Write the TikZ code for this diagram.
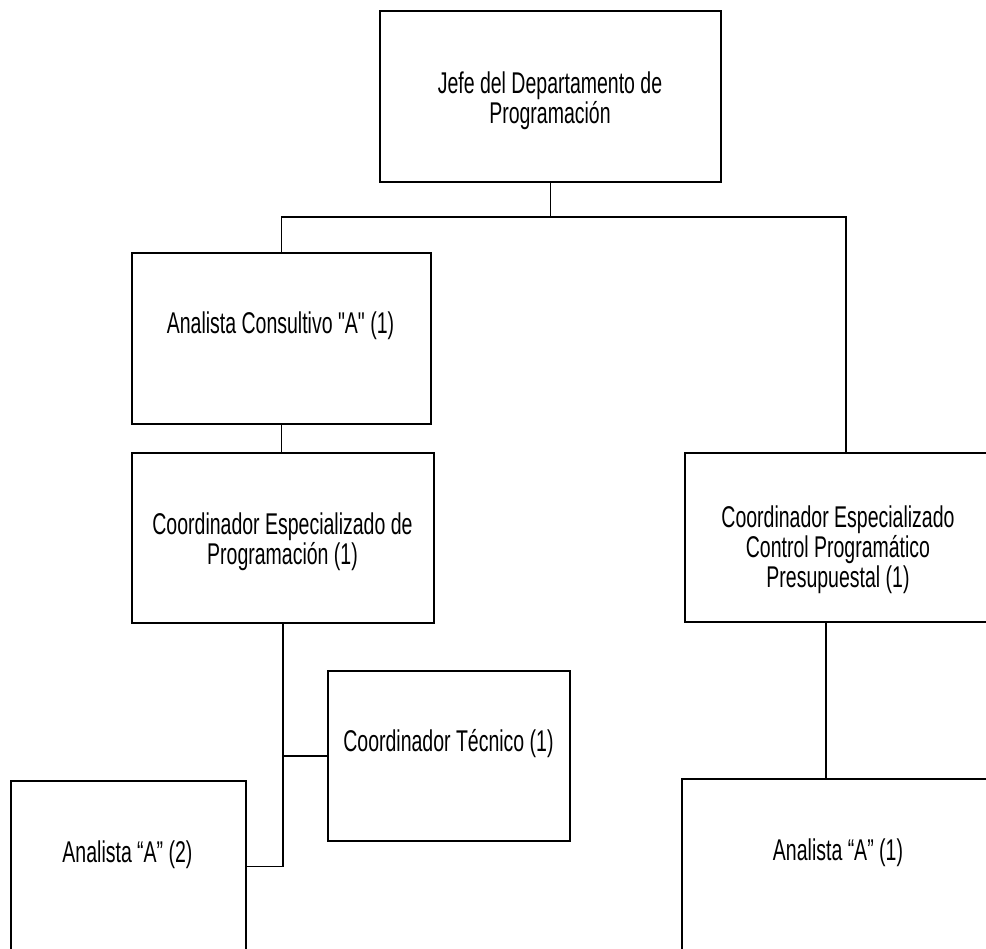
\documentclass[tikz,border=0pt]{standalone}
\usepackage{fontspec}
\setmainfont{Liberation Sans}[FakeStretch=0.65, Ligatures=TeXOff]
\usepackage{tikz}

\begin{document}
\begin{tikzpicture}[x=1pt, y=-1pt,
    puesto/.style={draw, line width=1.8pt, inner sep=0pt},
    rotulo/.style={align=center, inner sep=0pt, font=\fontsize{30}{30}\selectfont},
    linea/.style={line width=1.6pt}]
    \useasboundingbox (0,0) rectangle (986,949);
    % cajas
    \node[puesto, minimum width=341pt, minimum height=171pt] (jefe) at (550.5,96.5) {};
    \node[puesto, minimum width=299pt, minimum height=171pt] (consult) at (281.5,338.5) {};
    \node[puesto, minimum width=302pt, minimum height=170pt] (coordprog) at (283,538) {};
    \node[puesto, minimum width=307pt, minimum height=169pt] (coordctrl) at (838.5,537.5) {};
    \node[puesto, minimum width=242pt, minimum height=170pt] (tecnico) at (449,756) {};
    \node[puesto, minimum width=235pt, minimum height=171pt] (an2) at (128.5,866.5) {};
    \node[puesto, minimum width=312pt, minimum height=173pt] (an1) at (838,865.5) {};
    % textos
    \node[rotulo] (jefe-t) at (550,101) {Jefe del Departamento de\\Programación};
    \node[rotulo] (consult-t) at (280.5,326) {Analista Consultivo "A" (1)};
    \node[rotulo] (coordprog-t) at (282.5,542) {Coordinador Especializado de\\Programación (1)};
    \node[rotulo] (coordctrl-t) at (838,550) {Coordinador Especializado\\Control Programático\\Presupuestal (1)};
    \node[rotulo] (tecnico-t) at (448.5,744) {Coordinador Técnico (1)};
    \node[rotulo] (an2-t) at (127.5,855) {Analista “A” (2)};
    \node[rotulo] (an1-t) at (838,853) {Analista “A” (1)};
    % conectores
    \coordinate (bus) at (846,217);
    \coordinate (baja) at (826,622);
    \draw[linea] (jefe.south) -- (jefe.south |- bus);
    \draw[linea] (consult.north) |- (bus) -- (bus |- coordctrl.north);
    \draw[linea] (consult.south) -- (consult.south |- coordprog.north);
    \draw[linea] (coordprog.south) -- (coordprog.south |- an2.east) -- (an2.east);
    \draw[linea] (tecnico.west) -- (tecnico.west -| coordprog.south);
    \draw[linea] (baja) -- (baja |- an1.north);
\end{tikzpicture}
\end{document}
